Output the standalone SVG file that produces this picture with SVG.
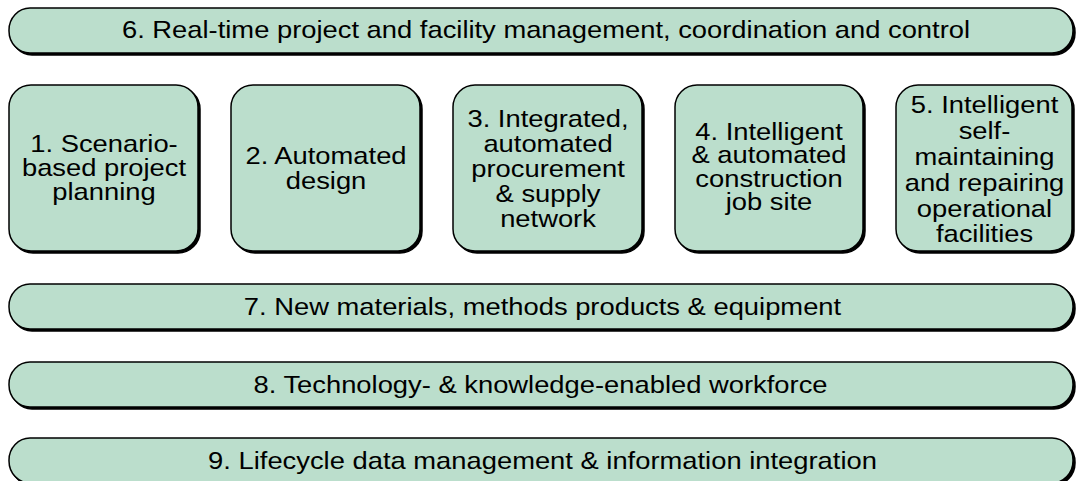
<svg xmlns="http://www.w3.org/2000/svg" width="1076" height="481" viewBox="0 0 1076 481">
<style>
.sh{fill:#000;stroke:#000;stroke-width:1.5}
.bx{fill:#BBDECC;stroke:#000;stroke-width:1.5}
.t{font-family:"Liberation Sans",Arial,sans-serif;font-size:24px;fill:#000;text-anchor:middle}
</style>
<rect width="1076" height="481" fill="#fff"/>
<g id="connectors"></g>
<g id="bar6">
<rect class="sh" x="11" y="10" width="1064" height="45" rx="21" ry="22"/>
<rect class="bx" x="9" y="8" width="1064" height="45" rx="21" ry="22"/>
<text class="t" transform="matrix(1.14,0,0,1,546,0)" x="0" y="38.5">6. Real-time project and facility management, coordination and control</text>
</g>
<g id="box1">
<rect class="sh" x="11" y="87" width="189" height="166" rx="22"/>
<rect class="bx" x="9" y="85" width="189" height="166" rx="22"/>
<text class="t" transform="matrix(1.14,0,0,1,104,0)" y="152"><tspan x="0">1. Scenario-</tspan><tspan x="0" dy="24">based project</tspan><tspan x="0" dy="24">planning</tspan></text>
</g>
<g id="box2">
<rect class="sh" x="233" y="87" width="189" height="166" rx="22"/>
<rect class="bx" x="231" y="85" width="189" height="166" rx="22"/>
<text class="t" transform="matrix(1.14,0,0,1,326,0)" y="164"><tspan x="0">2. Automated</tspan><tspan x="0" dy="25">design</tspan></text>
</g>
<g id="box3">
<rect class="sh" x="455" y="87" width="189" height="166" rx="22"/>
<rect class="bx" x="453" y="85" width="189" height="166" rx="22"/>
<text class="t" transform="matrix(1.14,0,0,1,548,0)" y="127"><tspan x="0">3. Integrated,</tspan><tspan x="0" dy="25">automated</tspan><tspan x="0" dy="25">procurement</tspan><tspan x="0" dy="25">&amp; supply</tspan><tspan x="0" dy="25">network</tspan></text>
</g>
<g id="box4">
<rect class="sh" x="677" y="87" width="188" height="166" rx="22"/>
<rect class="bx" x="675" y="85" width="188" height="166" rx="22"/>
<text class="t" transform="matrix(1.14,0,0,1,769,0)" y="140"><tspan x="0">4. Intelligent</tspan><tspan x="0" dy="23.5">&amp; automated</tspan><tspan x="0" dy="23.5">construction</tspan><tspan x="0" dy="23.5">job site</tspan></text>
</g>
<g id="box5">
<rect class="sh" x="898" y="87" width="176" height="166" rx="22"/>
<rect class="bx" x="896" y="85" width="176" height="166" rx="22"/>
<text class="t" transform="matrix(1.14,0,0,1,984.5,0)" y="113.5"><tspan x="0">5. Intelligent</tspan><tspan x="0" dy="25.8">self-</tspan><tspan x="0" dy="25.8">maintaining</tspan><tspan x="0" dy="25.8">and repairing</tspan><tspan x="0" dy="25.8">operational</tspan><tspan x="0" dy="25.8">facilities</tspan></text>
</g>
<g id="bar7">
<rect class="sh" x="11" y="286" width="1064" height="45" rx="21" ry="22"/>
<rect class="bx" x="9" y="284" width="1064" height="45" rx="21" ry="22"/>
<text class="t" transform="matrix(1.14,0,0,1,542.5,0)" x="0" y="315">7. New materials, methods products &amp; equipment</text>
</g>
<g id="bar8">
<rect class="sh" x="11" y="364" width="1064" height="45" rx="21" ry="22"/>
<rect class="bx" x="9" y="362" width="1064" height="45" rx="21" ry="22"/>
<text class="t" transform="matrix(1.14,0,0,1,540.5,0)" x="0" y="393">8. Technology- &amp; knowledge-enabled workforce</text>
</g>
<g id="bar9">
<rect class="sh" x="11" y="440" width="1064" height="45" rx="21" ry="22"/>
<rect class="bx" x="9" y="438" width="1064" height="45" rx="21" ry="22"/>
<text class="t" transform="matrix(1.14,0,0,1,542.5,0)" x="0" y="469">9. Lifecycle data management &amp; information integration</text>
</g>
</svg>
